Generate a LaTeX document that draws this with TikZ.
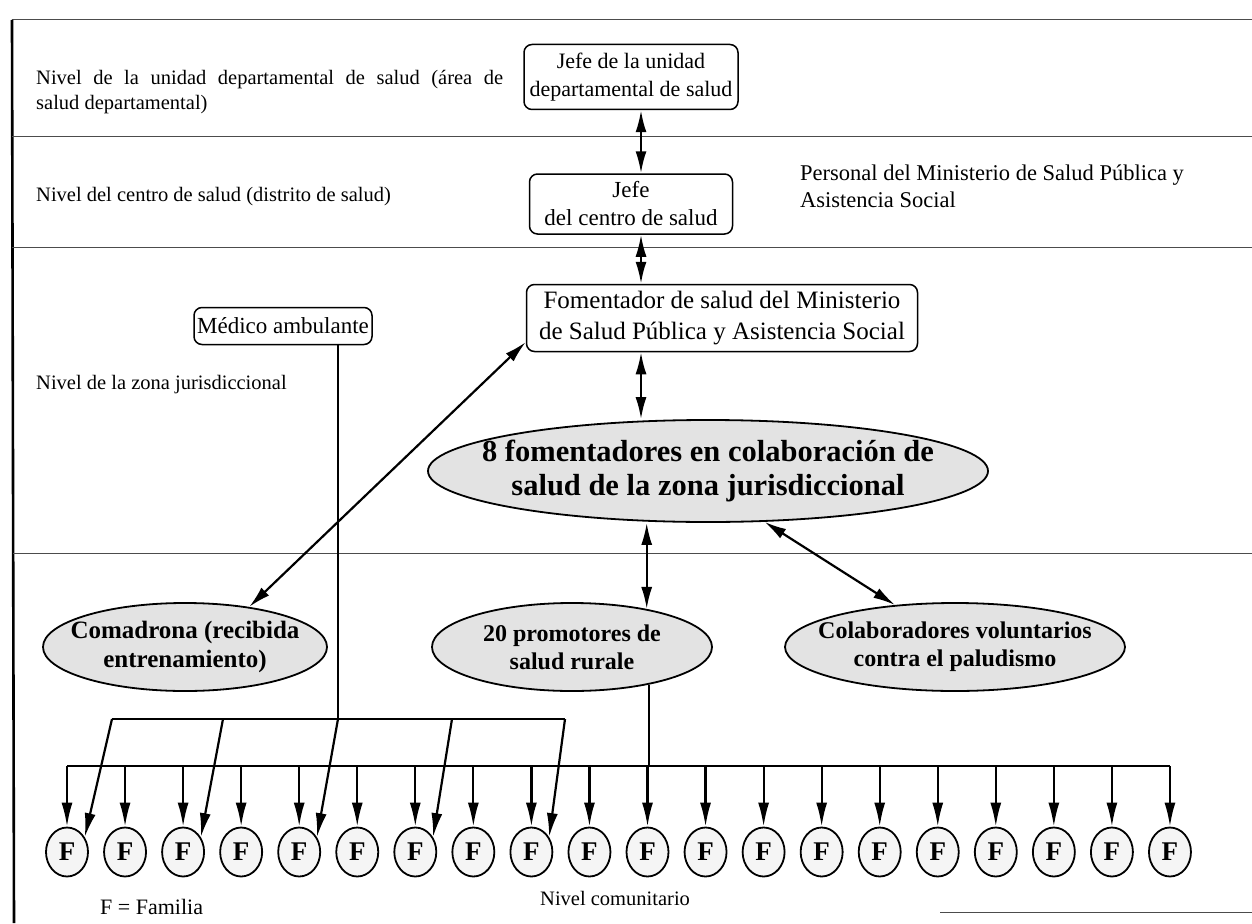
\documentclass[tikz,border=0pt]{standalone}
\usepackage{fontspec}
\setmainfont{Liberation Serif}
\usetikzlibrary{arrows.meta,shapes.geometric,calc}
\begin{document}
\begin{tikzpicture}[x=1pt,y=-1pt,
  rbox/.style={draw, line width=1.5pt, rounded corners=8pt, align=center, inner sep=0pt},
  oval/.style={ellipse, draw, line width=1.8pt, fill=gray!22, inner sep=0pt},
  ovaltext/.style={align=center, inner sep=0pt, font=\bfseries\fontsize{24}{28}\selectfont},
  fam/.style={ellipse, draw, line width=1.8pt, minimum width=42pt, minimum height=49pt, inner sep=0pt, fill=gray!8, font=\bfseries\fontsize{27}{27}\selectfont},
  lbl/.style={anchor=west, inner sep=0pt, font=\fontsize{20.5}{25}\selectfont, align=left},
  dbl/.style={{Latex[length=22pt,width=11pt]}-{Latex[length=22pt,width=11pt]}, line width=2.2pt},
  arr/.style={-{Latex[length=24pt,width=11pt]}, line width=2.2pt},
  ln/.style={line width=1.7pt},
  rule/.style={line width=1pt, black!70}]
\useasboundingbox (0,0) rectangle (1252,923);
% frame and level rules
\draw[rule] (1252,20) -- (12,20);
\draw[line width=2.6pt] (12,20) -- (14,923);
\draw[rule] (12,136) -- (1252,136);
\draw[rule] (12,247) -- (1252,247);
\draw[rule] (13,553) -- (1252,553);
\draw[rule] (940,912) -- (1252,912);
% level labels
\node[lbl, text width=467pt, align=justify] (t1) at (36,92.5) {Nivel de la unidad departamental de salud (área de\linebreak salud departamental)};
\node[lbl] (t2) at (36,197) {Nivel del centro de salud (distrito de salud)};
\node[lbl, font=\fontsize{22.5}{27}\selectfont] (t3) at (800,186) {Personal del Ministerio de Salud Pública y\\Asistencia Social};
\node[lbl] (t4) at (36,385) {Nivel de la zona jurisdiccional};
\node[lbl] (t5) at (540,898) {Nivel comunitario};
\node[lbl, font=\fontsize{22}{25}\selectfont] (t6) at (100,907) {F = Familia};
% boxes
\node[rbox, minimum width=214pt, minimum height=65pt, font=\fontsize{22}{28}\selectfont] (box1) at (631,77) {Jefe de la unidad\\departamental de salud};
\node[rbox, minimum width=203pt, minimum height=60pt, font=\fontsize{23}{28}\selectfont] (box2) at (631,204) {Jefe\\del centro de salud};
\node[rbox, minimum width=391pt, minimum height=67pt, font=\fontsize{25}{31}\selectfont] (fom) at (722,318) {Fomentador de salud del Ministerio\\de Salud Pública y Asistencia Social};
\node[rbox, minimum width=178pt, minimum height=37pt, font=\fontsize{23}{25}\selectfont] (med) at (283,326) {Médico ambulante};
% ellipses
\node[oval, minimum width=560pt, minimum height=102pt] (e8) at (708,471) {};
\node[ovaltext, font=\bfseries\fontsize{30.5}{34}\selectfont] at (e8) {8 fomentadores en colaboración de\\salud de la zona jurisdiccional};
\node[oval, minimum width=284pt, minimum height=88pt] (com) at (185,647) {};
\node[ovaltext, font=\bfseries\fontsize{25}{29}\selectfont] at (com) {Comadrona (recibida\\entrenamiento)};
\node[oval, minimum width=280pt, minimum height=88pt] (pro) at (572,647) {};
\node[ovaltext] at (pro) {20 promotores de\\salud rurale};
\node[oval, minimum width=340pt, minimum height=88pt] (col) at (955,647) {};
\node[ovaltext] at (col) {Colaboradores voluntarios\\contra el paludismo};
% families
\foreach \i in {1,...,20} \node[fam] (f\i) at ({67+58.05*(\i-1)},852) {F};
% vertical chain
\coordinate (ax) at (641,0);
\draw[dbl] (box1.south -| ax) -- (box2.north -| ax);
\draw[dbl] (box2.south -| ax) -- (fom.north -| ax);
\draw[dbl] (fom.south -| ax) -- (e8.north -| ax);
\draw[dbl] (e8.south -| pro.27) -- (pro.27);
\draw[dbl] (fom.187) -- (com.32);
\draw[dbl] (e8.-42) -- (col.145);
% distribution to families
\coordinate (lowL) at (0,766);
\draw[ln] (pro.-26) -- (pro.-26 |- lowL);
\draw[ln] (f1 |- lowL) -- (f20 |- lowL);
\foreach \i in {1,...,20} \draw[arr] (f\i |- lowL) -- (f\i.north);
\coordinate (b1) at (112,719);
\coordinate (b2) at (223,719);
\coordinate (b3) at (338,719);
\coordinate (b4) at (452,719);
\coordinate (b5) at (565,719);
\draw[ln] (med.south -| b3) -- (b3);
\draw[ln] (b1) -- (b5);
\draw[arr] (b1) -- (f1.40);
\draw[arr] (b2) -- (f3.40);
\draw[arr] (b3) -- (f5.40);
\draw[arr] (b4) -- (f7.40);
\draw[arr] (b5) -- (f9.40);
\end{tikzpicture}
\end{document}
